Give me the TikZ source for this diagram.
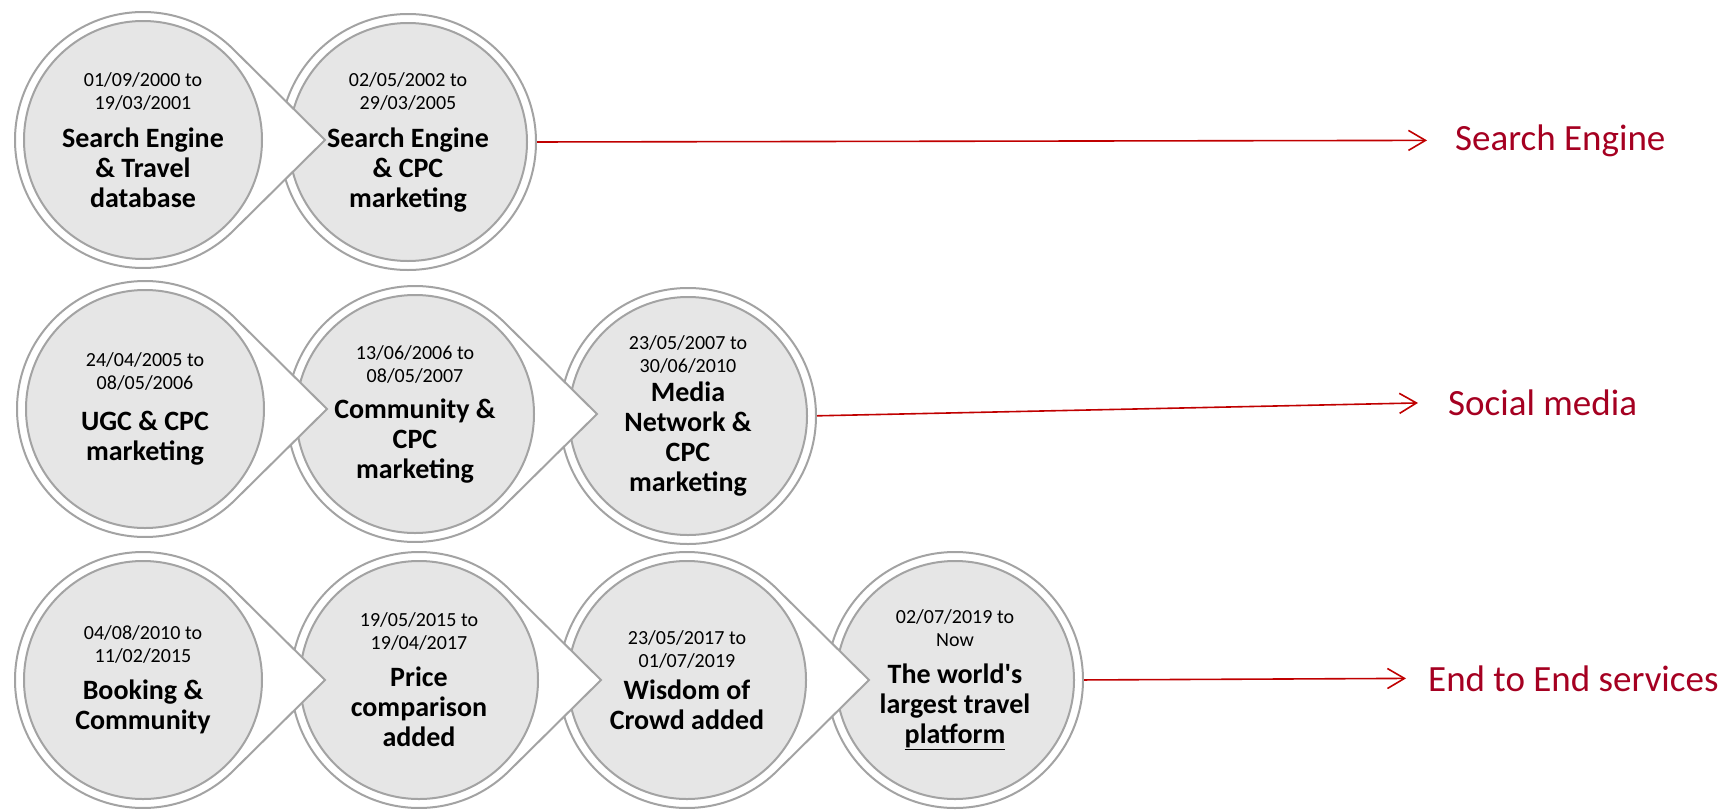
\documentclass[tikz,border=0pt]{standalone}
\usepackage{fontspec}
\setmainfont{Carlito}
\usetikzlibrary{calc,arrows.meta}
\definecolor{ringgray}{RGB}{163,163,163}
\definecolor{innerfill}{RGB}{230,230,230}
\definecolor{arrowred}{RGB}{192,0,0}
\definecolor{labred}{RGB}{165,0,33}
\newcommand\datef{\fontsize{20}{19}\selectfont\mdseries}
\newcommand\boldf{\fontsize{28}{30}\selectfont\bfseries}
\tikzset{
  ring/.style={draw=ringgray, line width=2pt, fill=white, line join=miter},
  innerc/.style={circle, draw=ringgray, line width=2pt, fill=innerfill, minimum size=238pt, inner sep=0pt},
  txt/.style={align=center, inner sep=0pt, text=black, font=\boldf},
  conn/.style={draw=arrowred, line width=1.6pt, shorten <=9pt, -{Straight Barb[length=17pt,width=20pt]}},
  lab/.style={text=labred, font=\fontsize{37}{44}\selectfont, anchor=base west, inner sep=0pt},
}
\newcommand\tearring[1]{\path[ring] ($(#1)+(45.3:128pt)$) arc[start angle=45.3,end angle=314.7,radius=128pt] -- ($(#1)+(182,0)$) -- cycle;}
\newcommand\plainring[1]{\path[ring] (#1) circle[radius=128pt];}
% two date lines, then a gap (#3), then bold lines
\newcommand\stage[3]{\datef #1\\[-7pt]\datef #2\\[#3]}
\begin{document}
\begin{tikzpicture}[x=1pt,y=-1pt]
\useasboundingbox (0,0) rectangle (1733,809);
% centres
\coordinate (pA1) at (143,140);
\coordinate (pB1) at (408,142);
\coordinate (pA2) at (145,409);
\coordinate (pB2) at (415,414);
\coordinate (pC2) at (688,416);
\coordinate (pA3) at (143,680);
\coordinate (pB3) at (419,680);
\coordinate (pC3) at (687,680);
\coordinate (pD3) at (955,680);
% row 1 (drawn right to left)
\plainring{pB1} \node[innerc] (B1) at (pB1) {};
\tearring{pA1} \node[innerc] (A1) at (pA1) {};
% row 2
\plainring{pC2} \node[innerc] (C2) at (pC2) {};
\tearring{pB2} \node[innerc] (B2) at (pB2) {};
\tearring{pA2} \node[innerc] (A2) at (pA2) {};
% row 3
\plainring{pD3} \node[innerc] (D3) at (pD3) {};
\tearring{pC3} \node[innerc] (C3) at (pC3) {};
\tearring{pB3} \node[innerc] (B3) at (pB3) {};
\tearring{pA3} \node[innerc] (A3) at (pA3) {};
% texts
\node[txt] (A1t) at (A1) {\stage{01/09/2000 to}{19/03/2001}{8pt}Search Engine\\\&~Travel\\database};
\node[txt] (B1t) at (B1) {\stage{02/05/2002 to}{29/03/2005}{8pt}Search Engine\\\&~CPC\\marketing};
\node[txt] (A2t) at (A2) {\stage{24/04/2005 to}{08/05/2006}{11pt}UGC \& CPC\\marketing};
\node[txt] (B2t) at (B2) {\stage{13/06/2006 to}{08/05/2007}{6pt}Community \&\\CPC\\marketing};
\node[txt] (C2t) at (C2) {\stage{23/05/2007 to}{30/06/2010}{-1pt}Media\\Network \&\\CPC\\marketing};
\node[txt] (A3t) at (A3) {\stage{04/08/2010 to}{11/02/2015}{7pt}Booking \&\\Community};
\node[txt] (B3t) at (B3) {\stage{19/05/2015 to}{19/04/2017}{7pt}Price\\comparison\\added};
\node[txt] (C3t) at (C3) {\stage{23/05/2017 to}{01/07/2019}{2pt}Wisdom of\\Crowd added};
\node[txt] (D3t) at (D3) {\stage{02/07/2019 to}{Now}{7pt}The world\textquotesingle s\\largest travel\\\underline{platform}};
% labels
\node[lab] (L1) at (1455,150) {Search Engine};
\node[lab] (L2) at (1448,415) {Social media};
\node[lab] (L3) at (1428,691) {End to End services};
% connectors
\draw[conn, shorten >=28pt] (B1.east) -- (L1.west);
\draw[conn, shorten >=30pt] (C2.east) -- (L2.west);
\draw[conn, shorten >=22pt] (D3.east) -- (L3.west);
\end{tikzpicture}
\end{document}
